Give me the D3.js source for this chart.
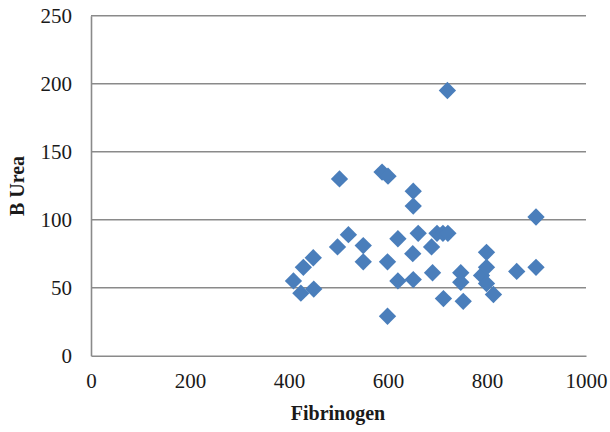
<!DOCTYPE html>
<html>
<head>
<meta charset="utf-8">
<script src="https://cdn.jsdelivr.net/npm/d3@7"></script>
<style>
  html, body { margin: 0; padding: 0; background: #fff; }
  svg { display: block; }
</style>
</head>
<body>
<svg id="chart" width="610" height="432"></svg>
<script>
// Fibrinogen vs blood urea, one diamond per patient
const fibrinogen = [409, 424, 450, 429, 449, 498, 502, 520, 550, 550,
                    588, 600, 599, 599, 620, 620, 651, 651, 650, 651,
                    661, 688, 690, 699, 711, 721, 712, 720, 747, 747,
                    752, 789, 799, 799, 799, 813, 860, 899, 899];
const urea       = [55, 46, 49, 65, 72, 80, 130, 89, 81, 69,
                    135, 132, 69, 29, 86, 55, 121, 110, 75, 56,
                    90, 80, 61, 90, 90, 90, 42, 195, 61, 54,
                    40, 59, 76, 65, 53, 45, 62, 102, 65];
const xTicks = [0, 200, 400, 600, 800, 1000];
const yTicks = [0, 50, 100, 150, 200, 250];
const xTitle = "Fibrinogen";
const yTitle = "B Urea";

const svg = d3.select("#chart");
const x = d3.scaleLinear().domain([0, 1000]).range([91, 586]);
const y = d3.scaleLinear().domain([0, 250]).range([355.7, 15.7]);

const gridColor = "#8a8a8a";
const font = "'Liberation Serif', 'Times New Roman', serif";
const fmt = d3.format("d");

// horizontal gridlines
svg.append("g").selectAll("line").data(yTicks.filter(d => d > 0)).join("line")
  .attr("x1", x(0)).attr("x2", x(1000))
  .attr("y1", d => y(d)).attr("y2", d => y(d))
  .attr("stroke", gridColor).attr("stroke-width", 1.6);

// y axis
const yAxis = svg.append("g")
  .attr("transform", `translate(${x(0)},0)`)
  .call(d3.axisLeft(y).tickValues(yTicks).tickFormat(fmt).tickSize(0).tickPadding(19));
yAxis.select(".domain").attr("stroke", gridColor).attr("stroke-width", 1.6);
yAxis.selectAll("text").attr("font-family", font).attr("font-size", 21).attr("fill", "#1a1a1a");

// x axis
const xAxis = svg.append("g")
  .attr("transform", `translate(0,${y(0)})`)
  .call(d3.axisBottom(x).tickValues(xTicks).tickFormat(fmt).tickSize(0).tickPadding(17));
xAxis.select(".domain").attr("stroke", gridColor).attr("stroke-width", 1.6);
xAxis.selectAll("text").attr("font-family", font).attr("font-size", 21).attr("fill", "#1a1a1a");

// points
const diamond = d3.symbol().type(d3.symbolSquare).size(150);
svg.append("g").selectAll("path").data(fibrinogen.map((f, i) => [f, urea[i]])).join("path")
  .attr("d", diamond)
  .attr("transform", d => `translate(${x(d[0])},${y(d[1])}) rotate(45)`)
  .attr("fill", "#4a7ebb");

// axis titles
svg.append("text")
  .attr("x", 338).attr("y", 420)
  .attr("text-anchor", "middle")
  .attr("font-family", font).attr("font-size", 20).attr("font-weight", "bold")
  .attr("fill", "#1a1a1a")
  .text(xTitle);

svg.append("text")
  .attr("transform", "translate(24,186) rotate(-90)")
  .attr("text-anchor", "middle")
  .attr("font-family", font).attr("font-size", 20).attr("font-weight", "bold")
  .attr("fill", "#1a1a1a")
  .text(yTitle);
</script>
</body>
</html>
